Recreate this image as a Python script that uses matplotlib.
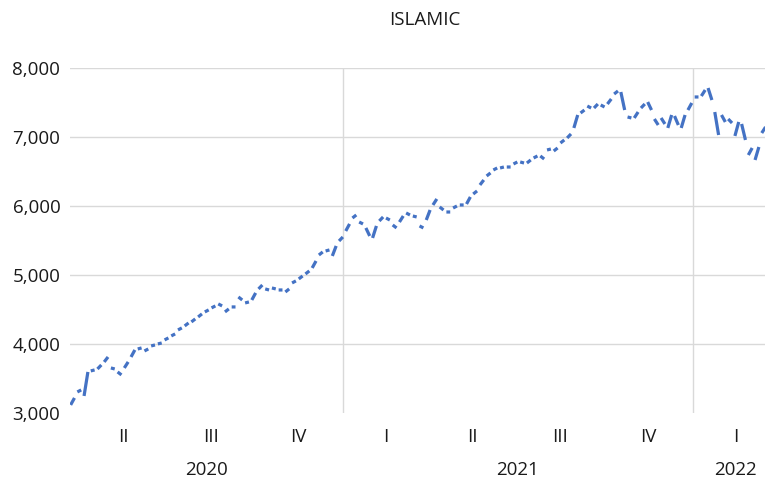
import numpy as np
import pandas as pd
import matplotlib
matplotlib.use('Agg')
import matplotlib.pyplot as plt

# weekly readings of the index: Monday and Friday of each trading week
week_start = pd.date_range('2020-03-23', periods=104, freq='W-MON')
mon_vals = [3117, 3305, 3247, 3610, 3638, 3740, 3653, 3595, 3653, 3812,
            3928, 3899, 3972, 4001, 4059, 4117, 4204, 4262, 4320, 4392,
            4465, 4523, 4581, 4465, 4537, 4682, 4595, 4638, 4798, 4798,
            4812, 4783, 4754, 4885, 4943, 5015, 5102, 5290, 5348, 5276,
            5493, 5638, 5826, 5768, 5682, 5537, 5783, 5826, 5725, 5768,
            5899, 5855, 5711, 5797, 6015, 5986, 5913, 5971, 6015, 6029,
            6174, 6305, 6435, 6522, 6551, 6565, 6609, 6638, 6623, 6696,
            6725, 6812, 6797, 6913, 6986, 7131, 7348, 7449, 7420, 7464,
            7478, 7623, 7652, 7290, 7276, 7420, 7507, 7261, 7276, 7131,
            7304, 7131, 7391, 7580, 7594, 7710, 7362, 7319, 7261, 7015,
            7189, 6739, 6667, 7058]
fri_vals = [3218, 3334, 3595, 3624, 3696, 3812, 3638, 3552, 3740, 3914,
            3943, 3928, 3986, 4015, 4088, 4146, 4233, 4305, 4363, 4436,
            4494, 4552, 4552, 4508, 4537, 4638, 4609, 4740, 4855, 4783,
            4798, 4783, 4798, 4914, 4986, 5059, 5203, 5334, 5363, 5421,
            5551, 5740, 5870, 5740, 5566, 5711, 5841, 5797, 5682, 5855,
            5870, 5841, 5682, 5942, 6102, 5942, 5913, 6000, 6015, 6131,
            6218, 6377, 6479, 6551, 6565, 6565, 6638, 6623, 6667, 6725,
            6681, 6826, 6841, 6957, 7044, 7319, 7391, 7420, 7478, 7435,
            7551, 7667, 7391, 7276, 7362, 7478, 7391, 7174, 7189, 7319,
            7174, 7319, 7493, 7580, 7681, 7536, 7029, 7218, 7203, 7218,
            6957, 6841, 6855, 7145]

quarter_labels = ['II', 'III', 'IV', 'I', 'II', 'III', 'IV', 'I']
quarter_starts = pd.date_range('2020-04-01', periods=8, freq='QS')
year_labels = ['2020', '2021', '2022']

x_start = pd.Timestamp('2020-03-22 08:00')
x_end = pd.Timestamp('2022-04-01')

# build broken line: Monday -> Friday segments, gap over the weekend
fri_dates = week_start + pd.Timedelta(days=4)
xs = np.column_stack([week_start.values, fri_dates.values,
                      fri_dates.values]).ravel()
ys = np.column_stack([mon_vals, fri_vals,
                      np.full(len(mon_vals), np.nan)]).ravel()

plt.rcParams['font.family'] = ['Open Sans', 'DejaVu Sans']
txt = '#1a1a1a'
grid = '#d9d9d9'

fig = plt.figure(figsize=(7.65, 4.86), dpi=100)
ax = fig.add_axes([70/765, 73/486, 709/765, 345/486])

ax.plot(xs, ys, color='#4472C4', lw=2.3, solid_capstyle='butt',
        solid_joinstyle='round')

ax.set_xlim(x_start, x_end)
ax.set_ylim(3000, 8000)
ax.set_yticks([3000, 4000, 5000, 6000, 7000, 8000])
ax.set_yticklabels([f'{v:,}' for v in range(3000, 8001, 1000)],
                   fontsize=13.5, color=txt)
ax.tick_params(axis='y', length=0, pad=7)
ax.set_xticks([])
for v in range(4000, 8001, 1000):
    ax.axhline(v, color=grid, lw=1.0, zorder=0)
for y in ['2021-01-01', '2022-01-01']:
    ax.axvline(pd.Timestamp(y), color=grid, lw=1.0, zorder=0)
for s in ax.spines.values():
    s.set_visible(False)

# multi-level category labels (quarters, then years)
for lab, qs in zip(quarter_labels, quarter_starts):
    mid = qs + (qs + pd.offsets.QuarterBegin(startingMonth=1) - qs) / 2
    ax.annotate(lab, xy=(mid, 0), xycoords=('data', 'axes fraction'),
                xytext=(0, -17.5), textcoords='offset points',
                ha='center', va='center', fontsize=13.5, color=txt)
year_bounds = [x_start, pd.Timestamp('2021-01-01'),
               pd.Timestamp('2022-01-01'), x_end]
for i, lab in enumerate(year_labels):
    mid = year_bounds[i] + (year_bounds[i + 1] - year_bounds[i]) / 2
    ax.annotate(lab, xy=(mid, 0), xycoords=('data', 'axes fraction'),
                xytext=(0, -41), textcoords='offset points',
                ha='center', va='center', fontsize=13.5, color=txt)

ax.set_title('ISLAMIC', fontsize=13.5, color=txt, pad=31)

fig.savefig('out.png', dpi=100)
